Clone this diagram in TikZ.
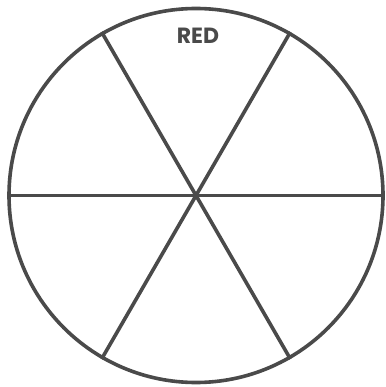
\documentclass[tikz,border=0pt]{standalone}
\usepackage{fontspec}
\newfontfamily\labelfont{Poppins}
\usepackage{xcolor}
\usepackage{tikz}
\definecolor{wheelgray}{HTML}{4A4A4A}

\begin{document}
\begin{tikzpicture}[
    x=1pt, y=-1pt,
    wheel/.style={circle, draw=wheelgray, line width=3.6pt, minimum size=374pt, inner sep=0pt},
    spoke/.style={draw=wheelgray, line width=3.6pt},
    sector/.style={font=\labelfont\bfseries\fontsize{22}{22}\selectfont, text=wheelgray}
]
\useasboundingbox (0,0) rectangle (385,387);

% Outer circle
\node[wheel] (rim) at (196,195.5) {};

% Spokes
\draw[spoke] (rim.180) -- (rim.0);
\draw[spoke] (rim.120) -- (rim.300);
\draw[spoke] (rim.60) -- (rim.240);

% Sector label
\node[sector] (red) at (198,36) {RED};

\end{tikzpicture}
\end{document}
